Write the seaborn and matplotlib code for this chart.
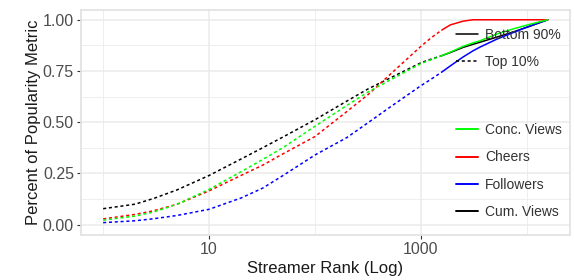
import numpy as np
import pandas as pd
import matplotlib
matplotlib.use("Agg")
import matplotlib.pyplot as plt
from matplotlib.lines import Line2D
from matplotlib.ticker import FixedLocator, NullFormatter
import seaborn as sns

# streamer rank (log axis); top 10% ends at rank 1580 out of 15800
ranks = [1, 2, 3, 5, 10, 20, 32, 50, 100, 200, 316, 500, 1000, 1250, 1580,
         1900, 2500, 3100, 3600, 5200, 7400, 10700, 15800]
top10_cut = 1580

cum_views = [0.078, 0.1, 0.128, 0.17, 0.24, 0.32, 0.375, 0.428, 0.512, 0.603, 0.662, 0.713,
             0.79, 0.808, 0.825, 0.84, 0.865, 0.88, 0.89, 0.915, 0.94, 0.968, 1.0]
conc_views = [0.022, 0.042, 0.062, 0.1, 0.172, 0.258, 0.318, 0.376, 0.48, 0.582, 0.647, 0.703,
              0.786, 0.805, 0.825, 0.842, 0.87, 0.887, 0.897, 0.93, 0.955, 0.978, 1.0]
cheers = [0.028, 0.05, 0.068, 0.1, 0.165, 0.24, 0.29, 0.346, 0.43, 0.552, 0.634, 0.728,
          0.87, 0.912, 0.95, 0.975, 0.993, 1.0, 1.0, 1.0, 1.0, 1.0, 1.0]
followers = [0.01, 0.019, 0.029, 0.045, 0.075, 0.13, 0.178, 0.24, 0.34, 0.425, 0.497, 0.57,
             0.678, 0.71, 0.745, 0.775, 0.818, 0.848, 0.866, 0.905, 0.937, 0.97, 1.0]

metrics = ["Conc. Views", "Cheers", "Followers", "Cum. Views"]
colors = {"Conc. Views": "#00FF00", "Cheers": "#FF0000",
          "Followers": "#0000FF", "Cum. Views": "#000000"}
series = {"Conc. Views": conc_views, "Cheers": cheers,
          "Followers": followers, "Cum. Views": cum_views}

# long table, the cut point belongs to both segments so lines join
rows = []
for m in metrics:
    for r, v in zip(ranks, series[m]):
        if r <= top10_cut:
            rows.append((m, "Top 10%", r, v))
        if r >= top10_cut:
            rows.append((m, "Bottom 90%", r, v))
df = pd.DataFrame(rows, columns=["metric", "segment", "rank", "share"])

sns.set_theme(style="whitegrid")
plt.rcParams["font.family"] = ["Liberation Sans", "DejaVu Sans"]

fig, ax = plt.subplots(figsize=(5.74, 2.8), dpi=100)
fig.subplots_adjust(left=0.141, right=0.993, top=0.966, bottom=0.161)

# draw black first so the coloured lines sit on top
order = ["Cum. Views", "Followers", "Cheers", "Conc. Views"]
for m in order:
    sub = df[df["metric"] == m]
    sns.lineplot(data=sub, x="rank", y="share", style="segment",
                 dashes={"Top 10%": (2, 1.8), "Bottom 90%": ""},
                 color=colors[m], estimator=None, sort=True,
                 linewidth=1.1, legend=False, ax=ax)

ax.set_xscale("log")
lo, hi = np.log10(ranks[0]), np.log10(ranks[-1])
pad = 0.05 * (hi - lo)
ax.set_xlim(10 ** (lo - pad), 10 ** (hi + pad))
ax.set_ylim(-0.05, 1.05)

ax.xaxis.set_major_locator(FixedLocator([10, 1000]))
ax.xaxis.set_minor_locator(FixedLocator([1, 100, 10000]))
ax.xaxis.set_minor_formatter(NullFormatter())
ax.set_xticklabels(["10", "1000"])
ax.yaxis.set_major_locator(FixedLocator([0, 0.25, 0.5, 0.75, 1.0]))
ax.yaxis.set_minor_locator(FixedLocator([0.125, 0.375, 0.625, 0.875]))
ax.set_yticklabels(["0.00", "0.25", "0.50", "0.75", "1.00"])

ax.grid(which="major", color="#EBEBEB", linewidth=1.1)
ax.grid(which="minor", color="#EBEBEB", linewidth=0.6)
ax.tick_params(which="major", length=3, width=0.8, color="#333333",
               labelsize=11.5, labelcolor="#4D4D4D", pad=2)
ax.tick_params(which="minor", length=0)
ax.tick_params(axis="x", bottom=True)
ax.tick_params(axis="y", left=True)
for s in ax.spines.values():
    s.set_color("#E3E3E3")
    s.set_linewidth(1.3)

ax.set_xlabel("Streamer Rank (Log)", fontsize=12, color="#1A1A1A", labelpad=3)
ax.set_ylabel("Percent of Popularity Metric", fontsize=12, color="#1A1A1A", labelpad=1)

# linetype legend (top right) and colour legend (lower right)
lt_handles = [Line2D([], [], color="black", linewidth=1.1),
              Line2D([], [], color="black", linewidth=1.1, dashes=(2, 1.8))]
leg1 = fig.legend(lt_handles, ["Bottom 90%", "Top 10%"], loc="center left",
                  bbox_to_anchor=(0.794, 0.827), frameon=False, fontsize=10,
                  handlelength=1.6, handletextpad=0.5, labelspacing=0.95,
                  borderpad=0, borderaxespad=0, labelcolor="#333333")
col_handles = [Line2D([], [], color=colors[m], linewidth=1.4) for m in metrics]
leg2 = fig.legend(col_handles, metrics, loc="center left",
                  bbox_to_anchor=(0.794, 0.389), frameon=False, fontsize=10,
                  handlelength=1.6, handletextpad=0.5, labelspacing=0.95,
                  borderpad=0, borderaxespad=0, labelcolor="#333333")

fig.savefig("out.png", dpi=100)
